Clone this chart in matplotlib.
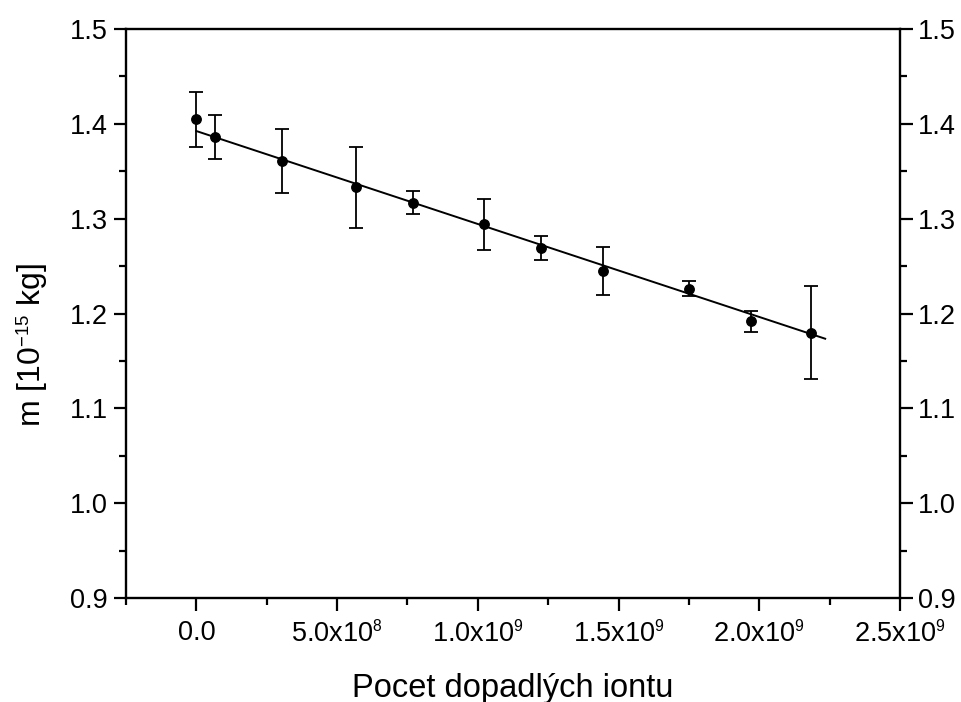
import numpy as np
import matplotlib
matplotlib.use('Agg')
import matplotlib.pyplot as plt
from matplotlib.ticker import MultipleLocator, FuncFormatter

plt.rcParams['font.family'] = ['Liberation Sans', 'DejaVu Sans']
plt.rcParams['mathtext.fontset'] = 'custom'
plt.rcParams['mathtext.rm'] = 'Liberation Sans'
plt.rcParams['mathtext.it'] = 'Liberation Sans'
# mensi exponenty
try:
    import matplotlib._mathtext as _mt
    _mt.SHRINK_FACTOR = 0.58
except Exception:
    pass

# namerene hodnoty
pocet_iontu = [0.0, 0.67e8, 3.05e8, 5.68e8, 7.7e8, 1.023e9, 1.225e9, 1.445e9, 1.751e9, 1.971e9, 2.184e9]
hmotnost = [1.405, 1.386, 1.361, 1.333, 1.317, 1.294, 1.269, 1.245, 1.226, 1.192, 1.180]
chyba = [0.029, 0.023, 0.034, 0.043, 0.012, 0.027, 0.013, 0.025, 0.008, 0.011, 0.049]

# linearni fit
fit_abs = 1.3924
fit_smernice = -9.8e-11
fit_rozsah = [0.0, 2.234e9]


def x_label(val, pos):
    if abs(val) < 1:
        return '0.0'
    exp = int(np.floor(np.log10(abs(val))))
    mant = val / 10**exp
    return '%.1fx10$^{%d}$' % (mant, exp)


fig = plt.figure(figsize=(9.62, 7.02), dpi=100)
ax = fig.add_axes([0.131, 0.148, 0.8046, 0.8107])

ax.errorbar(pocet_iontu, hmotnost, yerr=chyba, fmt='o', color='black',
            markersize=6.8, elinewidth=1.3, capsize=5, capthick=1.3)
xf = np.array(fit_rozsah)
ax.plot(xf, fit_abs + fit_smernice * xf, color='black', linewidth=1.4)

ax.set_xlim(-2.5e8, 2.5e9)
ax.set_ylim(0.9, 1.5)
ax.xaxis.set_major_locator(MultipleLocator(5e8))
ax.xaxis.set_minor_locator(MultipleLocator(2.5e8))
ax.yaxis.set_major_locator(MultipleLocator(0.1))
ax.yaxis.set_minor_locator(MultipleLocator(0.05))
ax.xaxis.set_major_formatter(FuncFormatter(x_label))
ax.yaxis.set_major_formatter(FuncFormatter(lambda v, p: '%.1f' % v))

for s in ax.spines.values():
    s.set_linewidth(1.7)
ax.tick_params(which='both', direction='out', width=1.6, labelsize=19.5,
               top=False, right=True, labelright=True)
ax.tick_params(which='major', length=9, pad=4)
ax.tick_params(which='minor', length=5)
ax.tick_params(axis='x', pad=7)

ax.set_xlabel('Pocet dopadlých iontu', fontsize=23.5)
ax.xaxis.set_label_coords(0.5, -0.131)
ax.xaxis.label.set_verticalalignment('top')
ax.set_ylabel('m [10$^{-15}$ kg]', fontsize=23)
ax.yaxis.set_label_coords(-0.097, 0.445)

fig.savefig('out.png', dpi=100)
